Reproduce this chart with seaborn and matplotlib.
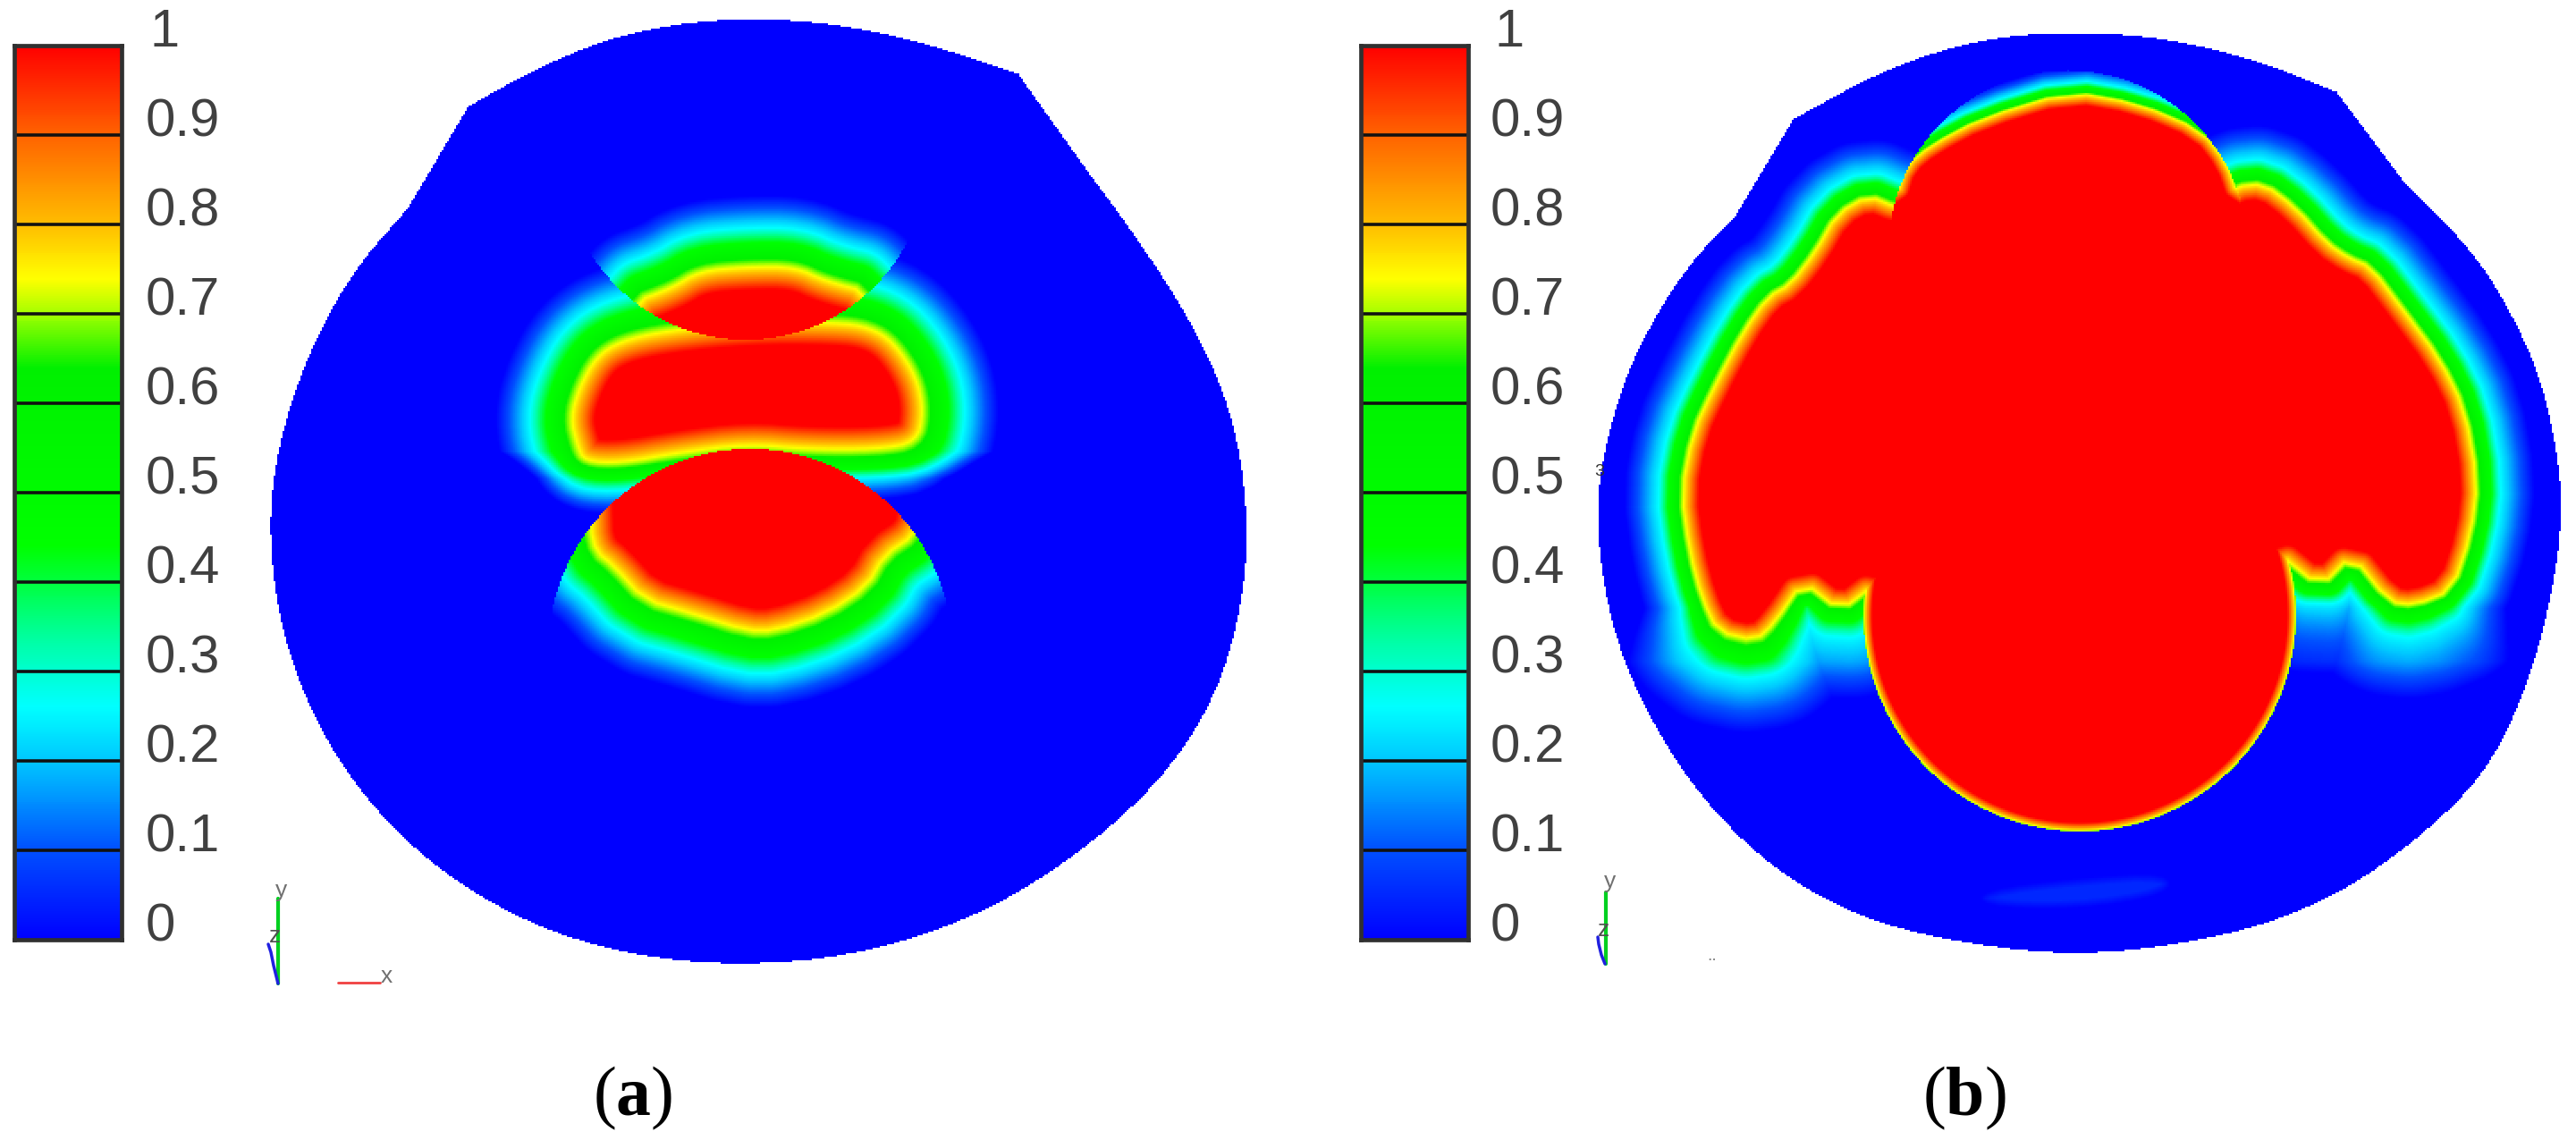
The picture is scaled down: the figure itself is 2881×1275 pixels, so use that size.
import numpy as np
import pandas as pd
import matplotlib
matplotlib.use('Agg')
import matplotlib.pyplot as plt
from matplotlib.colors import LinearSegmentedColormap
from matplotlib.path import Path
import seaborn as sns

W, H = 2881, 1275
step = 2

# colour scale
scale_levels = [0, 0.1, 0.2, 0.26, 0.33, 0.44, 0.64, 0.7, 0.74, 0.8, 0.9, 1]
scale_colors = ['#0000ff', '#0050ff', '#00c8ff', '#00ffff', '#00ffaa', '#00ff00', '#00f000',
                '#a0ff00', '#ffff00', '#ffbe00', '#ff6400', '#ff0000']
tick_labels = ['1', '0.9', '0.8', '0.7', '0.6', '0.5', '0.4', '0.3', '0.2', '0.1', '0']

# panel outlines, pixels of the full image: cap arc, then the big arc, between the notch corners
cap_a = [(524,119),(606,73),(698,37),(808,20),(919,24),(1029,46),(1139,83)]
arc_a = [(1213,187),(1268,261),(1332,358),(1378,459),(1396,570),(1391,671),(1360,781),(1295,878),(1194,965),(1084,1029),
         (955,1069),(827,1080),(707,1069),(588,1033),(478,965),(395,878),(340,781),(309,680),(300,573),(316,478),
         (349,386),(395,303),(456,233)]
cap_b = [(2006,133),(2111,76),(2216,43),(2321,35),(2427,43),(2532,70),(2613,103)]
arc_b = [(2685,199),(2770,285),(2820,371),(2848,444),(2867,550),(2858,650),(2827,769),(2778,869),(2693,948),(2602,1008),
         (2490,1048),(2321,1071),(2153,1048),(2055,1015),(1971,962),(1900,889),(1848,809),(1809,723),(1789,630),(1786,550),
         (1802,471),(1830,391),(1886,298),(1939,245)]

# isolines near 0.74 (yellow), in units of the zoomed crops
a_mid = [(480,445),(350,475),(280,520),(230,610),(205,700),(225,780),(245,825),(350,830),(520,800),(720,775),
         (900,790),(1100,790),(1215,770),(1235,680),(1215,580),(1150,480),(1080,435),(980,420),(720,420)]
a_top = [(375,365),(500,320),(580,270),(720,258),(860,258),(950,300),(1090,335),(1090,650),(375,650)]
a_low = [(262,1020),(280,1090),(330,1130),(420,1230),(560,1270),(720,1320),(800,1320),(950,1270),(1070,1190),
         (1120,1100),(1210,1040),(1225,970),(1225,650),(262,650)]
b_wings = [(515,320),(470,300),(420,330),(385,395),(345,450),(310,470),(270,530),(225,620),(190,700),(172,800),
           (185,900),(205,980),(230,1035),(290,1050),(320,1020),(365,950),(425,1000),(480,955),(800,1100),(1120,900),
           (1190,960),(1240,905),(1300,985),(1340,990),(1400,965),(1430,870),(1440,780),(1420,660),(1380,575),
           (1320,490),(1270,420),(1235,405),(1200,380),(1150,320),(1100,280),(1055,285),(800,400)]
b_top = [(515,300),(530,250),(570,215),(650,170),(790,125),(900,145),(1000,190),(1040,245),(1058,300),(1150,320),(1150,800),
         (430,800),(430,320)]
b_faint = [(650,1470),(800,1450),(950,1440),(950,1480),(800,1505),(650,1500)]

def za(pts):
    return [(560 + x / 2.613, 200 + y / 2.613) for x, y in pts]

def zb(pts):
    return [(1760 + x / 1.425, 20 + y / 1.508) for x, y in pts]

def chaikin(pts, n = 2, closed = True):
    p = np.array(pts, float)
    for _ in range(n):
        q = np.roll(p, -1, axis = 0)
        a = 0.75 * p + 0.25 * q
        b = 0.25 * p + 0.75 * q
        r = np.empty((2 * len(p), 2))
        r[0::2] = a; r[1::2] = b
        if not closed:
            r = np.vstack([p[0], r[:-2], p[-1]])
        p = r
    return p

def signed_dist(px, py, poly):
    p = np.array(poly, float)
    q = np.roll(p, -1, axis = 0)
    best = np.full(px.shape, np.inf)
    for (x0, y0), (x1, y1) in zip(p, q):
        dx, dy = x1 - x0, y1 - y0
        t = np.clip(((px - x0) * dx + (py - y0) * dy) / (dx * dx + dy * dy), 0, 1)
        best = np.minimum(best, (px - x0 - t * dx) ** 2 + (py - y0 - t * dy) ** 2)
    pts = np.column_stack([px.ravel(), py.ravel()])
    inside = Path(p).contains_points(pts).reshape(px.shape)
    d = np.sqrt(best)
    d[inside] *= -1
    return d

def level(d, inner, cyan, outer):
    return np.interp(d, [-inner, 0, cyan, outer], [1, 0.74, 0.26, 0])

def circle(px, py, cx, cy, r):
    return (px - cx) ** 2 + (py - cy) ** 2 <= r * r

def make_grid(box):
    x0, y0, x1, y1 = box
    xs = np.arange(x0, x1, step) + step / 2
    ys = np.arange(y0, y1, step) + step / 2
    return np.meshgrid(xs, ys)

def outline(cap, arc):
    return np.vstack([chaikin(cap, closed = False), chaikin(arc, closed = False)])

box_a = (280, 0, 1410, 1100)
box_b = (1770, 0, 2880, 1090)

px, py = make_grid(box_a)
d_mid = signed_dist(px, py, chaikin(za(a_mid)))
# the glow under the middle blob is tighter than at its sides
d_mid = np.where(d_mid > 0, d_mid * (1 + 0.5 * np.clip((py - 505) / 30, 0, 1)), d_mid)
field_a = level(d_mid, 25, 48, 86)
m = circle(px, py, 834, 176, 204)
field_a[m] = level(signed_dist(px, py, chaikin(za(a_top))), 25, 44, 80)[m]
m = circle(px, py, 839, 728, 226)
field_a[m] = level(signed_dist(px, py, chaikin(za(a_low), n = 1)), 25, 48, 86)[m]
inside_a = Path(outline(cap_a, arc_a)).contains_points(np.column_stack([px.ravel(), py.ravel()])).reshape(px.shape)
field_a[~inside_a] = np.nan

px, py = make_grid(box_b)
d_wing = signed_dist(px, py, chaikin(zb(b_wings), n = 1))
# the glow under the wings is wider than at their sides
d_wing = np.where(d_wing > 0, d_wing / (1 + 0.6 * np.clip((py - 680) / 60, 0, 1)), d_wing)
field_b = level(d_wing, 17, 28, 66)
faint = np.clip(-signed_dist(px, py, chaikin(zb(b_faint))) / 10, 0, 1) * 0.05
field_b = np.maximum(field_b, faint)
m = circle(px, py, 2313, 280, 201)
field_b[m] = level(signed_dist(px, py, chaikin(zb(b_top), n = 1)), 12, 15, 32)[m]
m = circle(px, py, 2326, 688, 242)
rim = np.interp(242 - np.hypot(px - 2326, py - 688), [0, 3, 10], [0.68, 0.8, 1])
field_b[m] = np.maximum(field_b, rim)[m]
inside_b = Path(outline(cap_b, arc_b)).contains_points(np.column_stack([px.ravel(), py.ravel()])).reshape(px.shape)
field_b[~inside_b] = np.nan

sns.set_theme(style = 'white')
plt.rcParams['font.family'] = ['Liberation Sans', 'DejaVu Sans']
plt.rcParams['mathtext.fontset'] = 'custom'
plt.rcParams['mathtext.rm'] = 'Liberation Serif'
plt.rcParams['mathtext.bf'] = 'Liberation Serif:bold'

cmap = LinearSegmentedColormap.from_list('field', list(zip(scale_levels, scale_colors)), N = 512)

fig = plt.figure(figsize = (W / 100, H / 100), dpi = 100, facecolor = 'white')

def pixel_axes(box):
    x0, y0, x1, y1 = box
    return fig.add_axes([x0 / W, 1 - y1 / H, (x1 - x0) / W, (y1 - y0) / H])

for box, field in [(box_a, field_a), (box_b, field_b)]:
    ax = pixel_axes(box)
    sns.heatmap(pd.DataFrame(field), ax = ax, cmap = cmap, vmin = 0, vmax = 1, cbar = False,
                mask = np.isnan(field), xticklabels = False, yticklabels = False)
    ax.axis('off')

bar_values = pd.DataFrame({'v': np.linspace(1, 0, 500)})
for box in [(16, 51, 136, 1051), (1522, 51, 1642, 1051)]:
    ax = pixel_axes(box)
    sns.heatmap(bar_values, ax = ax, cmap = cmap, vmin = 0, vmax = 1, cbar = False,
                xticklabels = False, yticklabels = False)
    for i in range(1, 10):
        ax.axhline(i * 50, color = '#111111', lw = 2.6)
    for s in ax.spines.values():
        s.set_visible(True); s.set_color('#303030'); s.set_linewidth(3.4)

over = fig.add_axes([0, 0, 1, 1])
over.set_xlim(0, W); over.set_ylim(H, 0); over.axis('off'); over.patch.set_alpha(0)

for i, lab in enumerate(tick_labels):
    lx = 163 + (4 if lab == '1' else 0)
    for base in [lx, lx + 1504]:
        over.text(base, 37 + i * 100, lab, fontsize = 43, color = '#404040', ha = 'left', va = 'center')

over.text(708, 1247, r'($\mathbf{a}$)', fontsize = 56, color = 'black', ha = 'center', va = 'baseline',
          family = 'Liberation Serif')
over.text(2197, 1247, r'($\mathbf{b}$)', fontsize = 56, color = 'black', ha = 'center', va = 'baseline',
          family = 'Liberation Serif')

# orientation triads
over.plot([311, 311], [1005, 1100], color = '#00d020', lw = 3)
over.plot([311, 306, 303, 300], [1100, 1080, 1065, 1056], color = '#2020e0', lw = 2.5)
over.plot([378, 425], [1099, 1099], color = '#f04040', lw = 2)
over.text(315, 996, 'y', fontsize = 19, color = '#707070', ha = 'center', va = 'center')
over.text(308, 1047, 'z', fontsize = 19, color = '#505050', ha = 'center', va = 'center')
over.text(432, 1092, 'x', fontsize = 19, color = '#707070', ha = 'center', va = 'center')
over.plot([1796, 1796], [998, 1078], color = '#00d020', lw = 3)
over.plot([1795, 1791, 1788, 1787], [1078, 1068, 1056, 1048], color = '#2020e0', lw = 2.5)
over.text(1801, 986, 'y', fontsize = 19, color = '#707070', ha = 'center', va = 'center')
over.text(1793, 1040, 'z', fontsize = 19, color = '#505050', ha = 'center', va = 'center')
over.text(1915, 1070, '..', fontsize = 14, color = '#808080', ha = 'center', va = 'center')
over.text(1789, 527, '3', fontsize = 14, color = '#303030', ha = 'center', va = 'center')

fig.savefig('out.png', dpi = 100)
